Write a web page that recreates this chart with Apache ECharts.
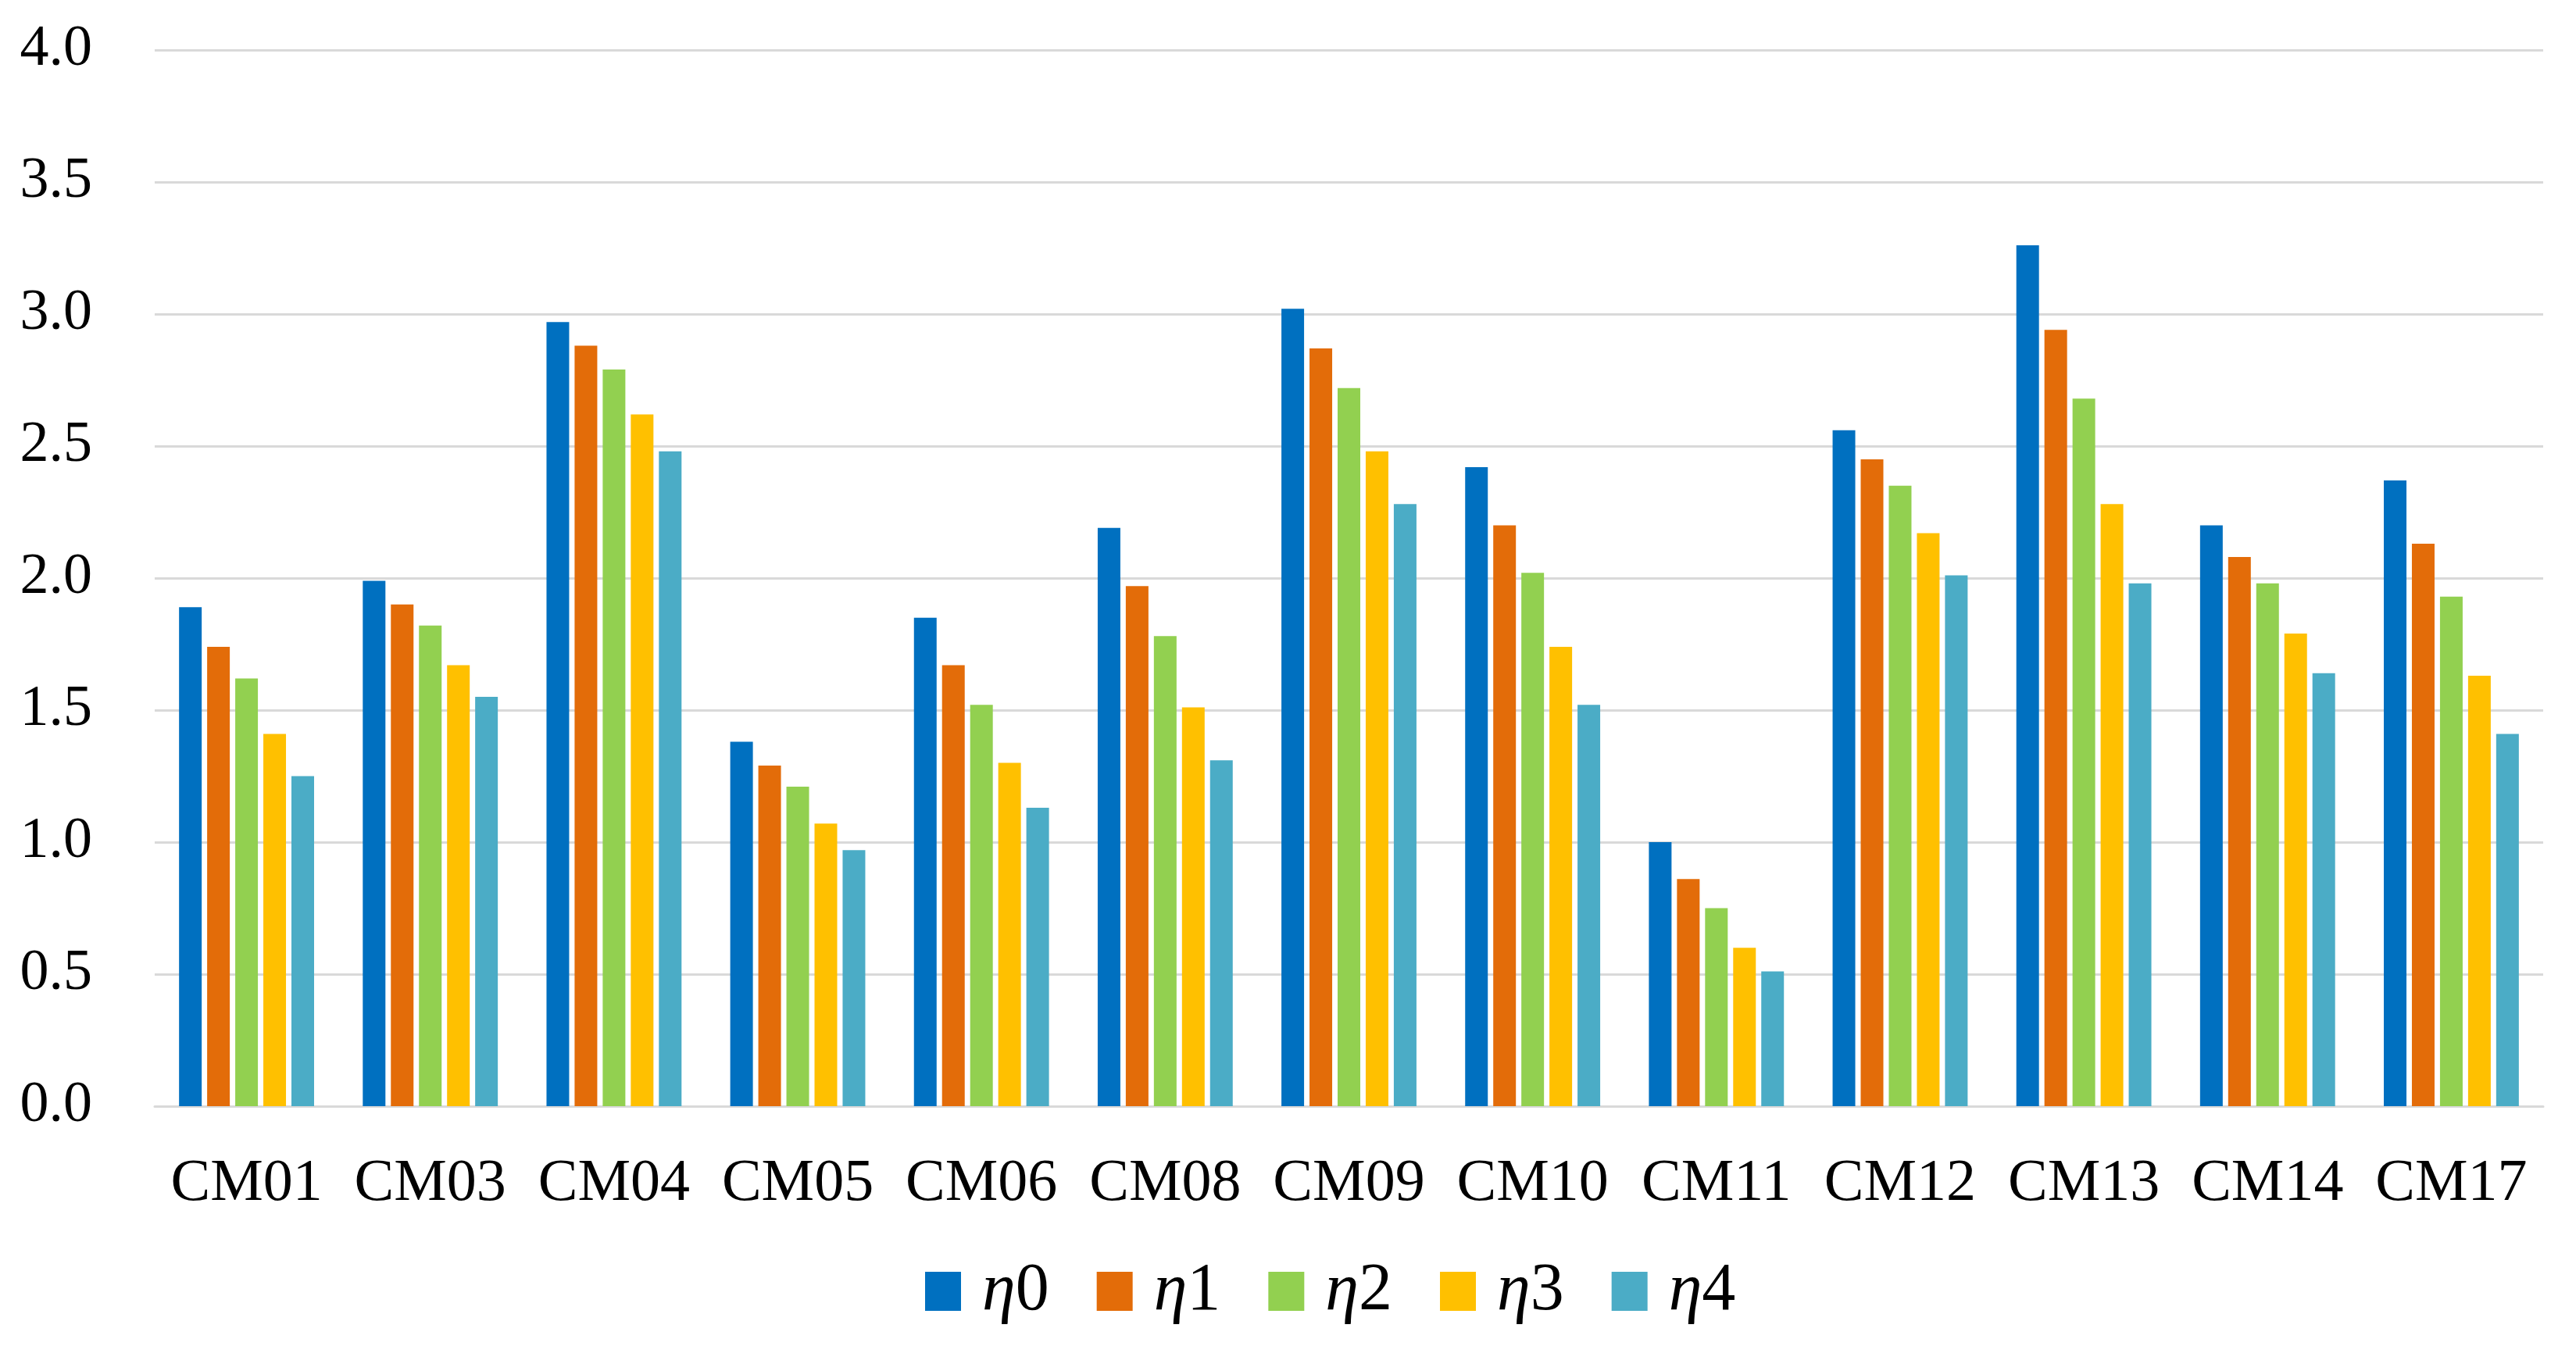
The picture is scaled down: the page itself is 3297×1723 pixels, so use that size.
<!DOCTYPE html>
<html>
<head>
<meta charset="utf-8">
<script src="https://cdn.jsdelivr.net/npm/echarts@6/dist/echarts.min.js"></script>
<style>
html,body{margin:0;padding:0;background:#fff;}
#chart{width:3297px;height:1723px;}
</style>
</head>
<body>
<div id="chart"></div>
<script>
const categories = ['CM01','CM03','CM04','CM05','CM06','CM08','CM09','CM10','CM11','CM12','CM13','CM14','CM17'];
const seriesNames = ['η0','η1','η2','η3','η4'];
const eta0 = [1.89, 1.99, 2.97, 1.38, 1.85, 2.19, 3.02, 2.42, 1.00, 2.56, 3.26, 2.20, 2.37];
const eta1 = [1.74, 1.90, 2.88, 1.29, 1.67, 1.97, 2.87, 2.20, 0.86, 2.45, 2.94, 2.08, 2.13];
const eta2 = [1.62, 1.82, 2.79, 1.21, 1.52, 1.78, 2.72, 2.02, 0.75, 2.35, 2.68, 1.98, 1.93];
const eta3 = [1.41, 1.67, 2.62, 1.07, 1.30, 1.51, 2.48, 1.74, 0.60, 2.17, 2.28, 1.79, 1.63];
const eta4 = [1.25, 1.55, 2.48, 0.97, 1.13, 1.31, 2.28, 1.52, 0.51, 2.01, 1.98, 1.64, 1.41];
const yTicks = ['0.0','0.5','1.0','1.5','2.0','2.5','3.0','3.5','4.0'];
const colors = ['#0070C0','#E36C09','#92D050','#FFC000','#4BACC6'];

const values = [eta0, eta1, eta2, eta3, eta4];
const FONT = '"Liberation Serif", "DejaVu Serif", serif';

const chart = echarts.init(document.getElementById('chart'), null, {renderer:'canvas'});
chart.setOption({
  backgroundColor: '#ffffff',
  animation: false,
  color: colors,
  grid: {left: 198, right: 42, top: 64, bottom: 307, containLabel: false},
  legend: {
    data: seriesNames,
    left: 1179,
    top: 1598,
    itemWidth: 46,
    itemHeight: 50,
    itemGap: 61,
    icon: 'rect',
    formatter: function (name) { return '{i|η}{n|' + name.slice(1) + '}'; },
    textStyle: {
      color: '#000',
      fontFamily: FONT,
      fontSize: 86,
      lineHeight: 100,
      padding: [0, 0, 0, 22],
      rich: {
        i: {fontFamily: FONT, fontStyle: 'italic', fontSize: 86, color: '#000'},
        n: {fontFamily: FONT, fontSize: 86, color: '#000'}
      }
    }
  },
  xAxis: {
    type: 'category',
    data: categories,
    axisLine: {show: true, lineStyle: {color: '#d9d9d9', width: 3}},
    axisTick: {show: false},
    axisLabel: {color: '#000', fontFamily: FONT, fontSize: 76, margin: 62, interval: 0}
  },
  yAxis: {
    type: 'value',
    min: 0,
    max: 4,
    interval: 0.5,
    axisLine: {show: false},
    axisTick: {show: false},
    splitLine: {show: true, lineStyle: {color: '#d9d9d9', width: 3}},
    axisLabel: {
      color: '#000', fontFamily: FONT, fontSize: 74, margin: 80,
      formatter: function (v) { return yTicks[Math.round(v / 0.5)]; }
    }
  },
  series: seriesNames.map(function (n, i) {
    return {
      name: n,
      type: 'bar',
      data: values[i],
      barWidth: 29,
      barGap: '24%',
      itemStyle: {color: colors[i]}
    };
  })
});
</script>
</body>
</html>
